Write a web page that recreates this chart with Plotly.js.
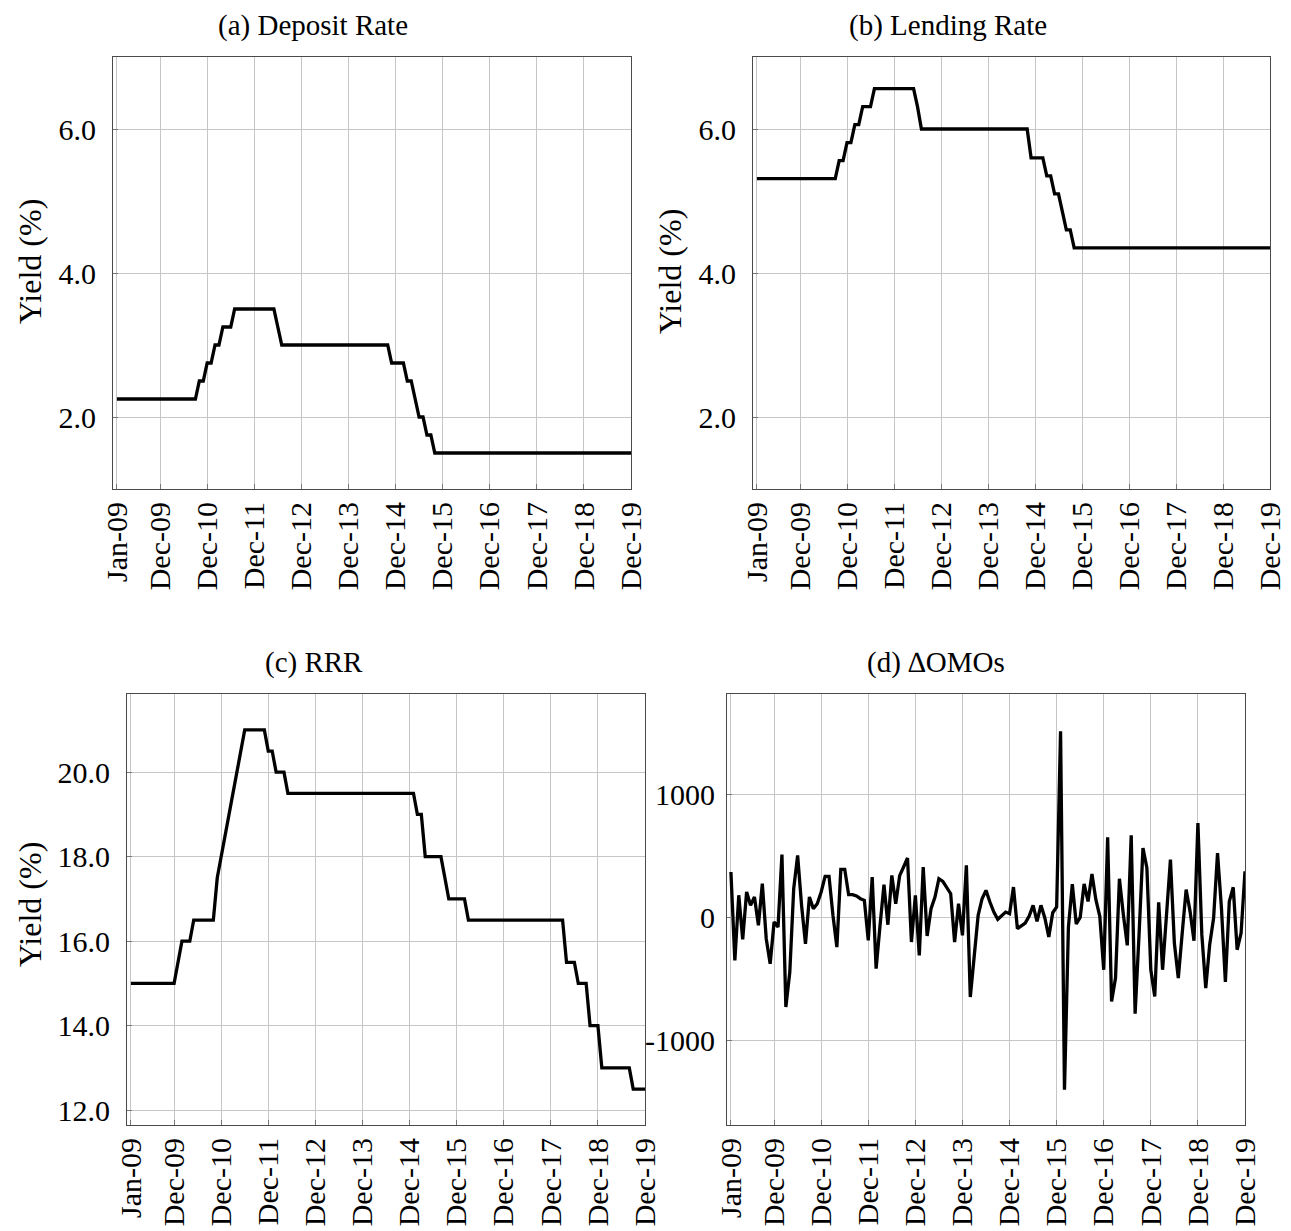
<!DOCTYPE html>
<html>
<head>
<meta charset="utf-8">
<script src="https://cdn.plot.ly/plotly-3.0.1.min.js"></script>
<style>
  html, body { margin: 0; padding: 0; background: #ffffff; }
  #chart { width: 1291px; height: 1231px; }
</style>
</head>
<body>
<div id="chart"></div>
<script>
// Monthly series, January 2009 (index 0) to December 2019 (index 131)
const tickMonths = [0, 11, 23, 35, 47, 59, 71, 83, 95, 107, 119, 131];
const tickLabels = ["Jan-09", "Dec-09", "Dec-10", "Dec-11", "Dec-12", "Dec-13",
                    "Dec-14", "Dec-15", "Dec-16", "Dec-17", "Dec-18", "Dec-19"];

// (a) benchmark deposit rate, %
const depositRate = [
  2.25, 2.25, 2.25, 2.25, 2.25, 2.25, 2.25, 2.25, 2.25, 2.25, 2.25, 2.25,
  2.25, 2.25, 2.25, 2.25, 2.25, 2.25, 2.25, 2.25, 2.25, 2.5, 2.5, 2.75,
  2.75, 3.0, 3.0, 3.25, 3.25, 3.25, 3.5, 3.5, 3.5, 3.5, 3.5, 3.5,
  3.5, 3.5, 3.5, 3.5, 3.5, 3.25, 3.0, 3.0, 3.0, 3.0, 3.0, 3.0,
  3.0, 3.0, 3.0, 3.0, 3.0, 3.0, 3.0, 3.0, 3.0, 3.0, 3.0, 3.0,
  3.0, 3.0, 3.0, 3.0, 3.0, 3.0, 3.0, 3.0, 3.0, 3.0, 2.75, 2.75,
  2.75, 2.75, 2.5, 2.5, 2.25, 2.0, 2.0, 1.75, 1.75, 1.5, 1.5, 1.5,
  1.5, 1.5, 1.5, 1.5, 1.5, 1.5, 1.5, 1.5, 1.5, 1.5, 1.5, 1.5,
  1.5, 1.5, 1.5, 1.5, 1.5, 1.5, 1.5, 1.5, 1.5, 1.5, 1.5, 1.5,
  1.5, 1.5, 1.5, 1.5, 1.5, 1.5, 1.5, 1.5, 1.5, 1.5, 1.5, 1.5,
  1.5, 1.5, 1.5, 1.5, 1.5, 1.5, 1.5, 1.5, 1.5, 1.5, 1.5, 1.5
];

// (b) benchmark lending rate, %
const lendingRate = [
  5.31, 5.31, 5.31, 5.31, 5.31, 5.31, 5.31, 5.31, 5.31, 5.31, 5.31, 5.31,
  5.31, 5.31, 5.31, 5.31, 5.31, 5.31, 5.31, 5.31, 5.31, 5.56, 5.56, 5.81,
  5.81, 6.06, 6.06, 6.31, 6.31, 6.31, 6.56, 6.56, 6.56, 6.56, 6.56, 6.56,
  6.56, 6.56, 6.56, 6.56, 6.56, 6.31, 6.0, 6.0, 6.0, 6.0, 6.0, 6.0,
  6.0, 6.0, 6.0, 6.0, 6.0, 6.0, 6.0, 6.0, 6.0, 6.0, 6.0, 6.0,
  6.0, 6.0, 6.0, 6.0, 6.0, 6.0, 6.0, 6.0, 6.0, 6.0, 5.6, 5.6,
  5.6, 5.6, 5.35, 5.35, 5.1, 5.1, 4.85, 4.6, 4.6, 4.35, 4.35, 4.35,
  4.35, 4.35, 4.35, 4.35, 4.35, 4.35, 4.35, 4.35, 4.35, 4.35, 4.35, 4.35,
  4.35, 4.35, 4.35, 4.35, 4.35, 4.35, 4.35, 4.35, 4.35, 4.35, 4.35, 4.35,
  4.35, 4.35, 4.35, 4.35, 4.35, 4.35, 4.35, 4.35, 4.35, 4.35, 4.35, 4.35,
  4.35, 4.35, 4.35, 4.35, 4.35, 4.35, 4.35, 4.35, 4.35, 4.35, 4.35, 4.35
];

// (c) required reserve ratio, %
const reserveRatio = [
  15.0, 15.0, 15.0, 15.0, 15.0, 15.0, 15.0, 15.0, 15.0, 15.0, 15.0, 15.0,
  15.5, 16.0, 16.0, 16.0, 16.5, 16.5, 16.5, 16.5, 16.5, 16.5, 17.5, 18.0,
  18.5, 19.0, 19.5, 20.0, 20.5, 21.0, 21.0, 21.0, 21.0, 21.0, 21.0, 20.5,
  20.5, 20.0, 20.0, 20.0, 19.5, 19.5, 19.5, 19.5, 19.5, 19.5, 19.5, 19.5,
  19.5, 19.5, 19.5, 19.5, 19.5, 19.5, 19.5, 19.5, 19.5, 19.5, 19.5, 19.5,
  19.5, 19.5, 19.5, 19.5, 19.5, 19.5, 19.5, 19.5, 19.5, 19.5, 19.5, 19.5,
  19.5, 19.0, 19.0, 18.0, 18.0, 18.0, 18.0, 18.0, 17.5, 17.0, 17.0, 17.0,
  17.0, 17.0, 16.5, 16.5, 16.5, 16.5, 16.5, 16.5, 16.5, 16.5, 16.5, 16.5,
  16.5, 16.5, 16.5, 16.5, 16.5, 16.5, 16.5, 16.5, 16.5, 16.5, 16.5, 16.5,
  16.5, 16.5, 16.5, 15.5, 15.5, 15.5, 15.0, 15.0, 15.0, 14.0, 14.0, 14.0,
  13.0, 13.0, 13.0, 13.0, 13.0, 13.0, 13.0, 13.0, 12.5, 12.5, 12.5, 12.5
];

// (d) monthly change in open market operations
const omoChange = [
   370, -350,  180, -180,  207,   98,  166,  -65,  274, -174, -378,  -38,
   -79,  511, -731, -446,  234,  505,   98, -215,  166,   71,  111,  207,
   334,  334,   16, -242,  391,  391,  185,  185,  174,  152,  139, -187,
   329, -418,  -65,  266,  -60,  342,  110,  340,  410,  484, -201,  179,
  -310,  410, -152,   71,  166,  315,  293,  239,  193, -201,  111, -147,
   424, -649, -337,   16,  152,  220,  125,   43,  -16,   16,   43,   30,
   247,  -92,  -71,  -46,   11,   98,  -33,   98,   -5, -160,   38,   84,
  1516, -1405, -80,  270,  -54,    0,  272,  130,  353,  144,    8, -427,
   652, -685, -495,  315,   22, -228,  668, -785, -141,  565,  402, -427,
  -644,  122, -427,   49,  470, -209, -495, -128,  226,   49, -190,  769,
  -141, -576, -223,   -5,  524,   76, -527,  130,  245, -264, -128,  375
];

const W = 1291, H = 1231;
const SERIF = "Liberation Serif, Times New Roman, serif";

// plot frames in page pixels: [left, right, top, bottom]
const frames = {
  a: [113, 631, 57, 489],
  b: [753, 1270, 57, 489],
  c: [127, 645, 694, 1125],
  d: [727, 1245, 694, 1125]
};
const xDom = f => [f[0] / W, f[1] / W];
const yDom = f => [1 - f[3] / H, 1 - f[2] / H];

const monthIdx = arr => arr.map((_, i) => i);

function lineTrace(values, xa, ya) {
  return {
    x: monthIdx(values), y: values, xaxis: xa, yaxis: ya,
    type: "scatter", mode: "lines",
    line: { color: "#000000", width: 3.3, shape: "linear" },
    hoverinfo: "skip", showlegend: false
  };
}

const gridColor = "#c6c6c6";
const frameColor = "#4a4a4a";

function xAxis(frame, yAnchor) {
  return {
    domain: xDom(frame), anchor: yAnchor,
    range: [-1, 131],
    tickmode: "array", tickvals: tickMonths, ticktext: tickLabels,
    tickangle: -90,
    tickfont: { family: SERIF, size: 30, color: "#000" },
    ticks: "inside", ticklen: 5, tickwidth: 1, tickcolor: "#777",
    ticklabelstandoff: 0,
    showgrid: true, gridcolor: gridColor, gridwidth: 1,
    showline: true, mirror: true, linecolor: frameColor, linewidth: 1,
    zeroline: false, fixedrange: true
  };
}

function yAxis(frame, xAnchor, range, vals, labels, standoff) {
  return {
    domain: yDom(frame), anchor: xAnchor,
    range: range,
    tickmode: "array", tickvals: vals, ticktext: labels,
    tickfont: { family: SERIF, size: 30, color: "#000" },
    ticks: "inside", ticklen: 5, tickwidth: 1, tickcolor: "#777",
    ticklabelstandoff: standoff,
    showgrid: true, gridcolor: gridColor, gridwidth: 1,
    showline: true, mirror: true, linecolor: frameColor, linewidth: 1,
    zeroline: false, fixedrange: true
  };
}

const rateTicks = [2, 4, 6];
const rateLabels = ["2.0", "4.0", "6.0"];
const rrrTicks = [12, 14, 16, 18, 20];
const rrrLabels = ["12.0", "14.0", "16.0", "18.0", "20.0"];
const omoTicks = [-1000, 0, 1000];
const omoLabels = ["-1000", "0", "1000"];

const data = [
  lineTrace(depositRate, "x", "y"),
  lineTrace(lendingRate, "x2", "y2"),
  lineTrace(reserveRatio, "x3", "y3"),
  lineTrace(omoChange, "x4", "y4")
];

function titleNote(text, cx, cy) {
  return {
    text: text, xref: "paper", yref: "paper",
    x: cx / W, y: 1 - cy / H, xanchor: "center", yanchor: "middle",
    showarrow: false, font: { family: SERIF, size: 29, color: "#000" }
  };
}
function yLabelNote(text, cx, cy) {
  return {
    text: text, xref: "paper", yref: "paper",
    x: cx / W, y: 1 - cy / H, xanchor: "center", yanchor: "middle",
    textangle: -90, showarrow: false,
    font: { family: SERIF, size: 32, color: "#000" }
  };
}

const layout = {
  width: W, height: H,
  margin: { l: 0, r: 0, t: 0, b: 0 },
  paper_bgcolor: "#ffffff", plot_bgcolor: "#ffffff",
  showlegend: false,
  xaxis: xAxis(frames.a, "y"),
  yaxis: yAxis(frames.a, "x", [1, 7], rateTicks, rateLabels, 10),
  xaxis2: xAxis(frames.b, "y2"),
  yaxis2: yAxis(frames.b, "x2", [1, 7], rateTicks, rateLabels, 10),
  xaxis3: xAxis(frames.c, "y3"),
  yaxis3: yAxis(frames.c, "x3", [11.65, 21.85], rrrTicks, rrrLabels, 10),
  xaxis4: xAxis(frames.d, "y4"),
  yaxis4: yAxis(frames.d, "x4", [-1692, 1820], omoTicks, omoLabels, 5),
  annotations: [
    titleNote("(a) Deposit Rate", 313, 26),
    titleNote("(b) Lending Rate", 948, 26),
    titleNote("(c) RRR", 314, 662),
    titleNote("(d) \u2206OMOs", 936, 662),
    yLabelNote("Yield (%)", 30, 262),
    yLabelNote("Yield (%)", 670, 272),
    yLabelNote("Yield (%)", 30, 905)
  ]
};

Plotly.newPlot("chart", data, layout, { staticPlot: true, displayModeBar: false });
</script>
</body>
</html>
